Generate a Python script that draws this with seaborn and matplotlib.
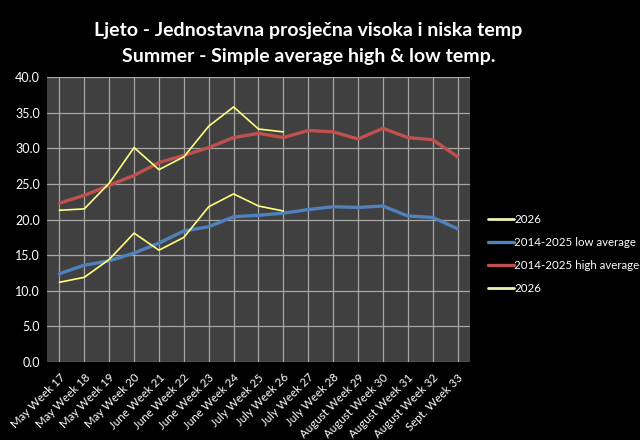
import pandas as pd
import seaborn as sns
import matplotlib.pyplot as plt
from matplotlib.lines import Line2D

# Week labels and weekly temperatures (deg C)
weeks = ['May Week 17', 'May Week 18', 'May Week 19', 'May Week 20',
         'June Week 21', 'June Week 22', 'June Week 23', 'June Week 24',
         'July Week 25', 'July Week 26', 'July Week 27', 'July Week 28',
         'August Week 29', 'August Week 30', 'August Week 31', 'August Week 32',
         'Sept. Week 33']
high_avg = [22.3, 23.4, 24.8, 26.2, 28.0, 29.0, 30.1, 31.5, 32.1, 31.5,
            32.5, 32.3, 31.3, 32.8, 31.5, 31.2, 28.8]
low_avg = [12.4, 13.6, 14.2, 15.3, 16.7, 18.4, 19.0, 20.4, 20.6, 20.9,
           21.4, 21.8, 21.7, 21.9, 20.5, 20.3, 18.7]
high_2026 = [21.3, 21.5, 25.1, 30.1, 27.0, 28.8, 33.1, 35.8, 32.7, 32.3]
low_2026 = [11.2, 11.9, 14.4, 18.1, 15.7, 17.5, 21.8, 23.6, 21.9, 21.2]

sns.set_style('dark')
plt.rcParams['font.family'] = ['Lato', 'DejaVu Sans']

blue = '#4f81bd'
red = '#c0504d'
yellow = '#ffff80'

fig = plt.figure(figsize=(6.4, 4.4), dpi=100, facecolor='black')
ax = fig.add_axes([0.0734, 0.177, 0.661, 0.648])
ax.set_facecolor('#404040')

df_avg = pd.DataFrame({'week': weeks, 'high': high_avg, 'low': low_avg})
df_26 = pd.DataFrame({'week': weeks[:len(high_2026)], 'high': high_2026, 'low': low_2026})

sns.lineplot(data=df_avg, x='week', y='low', color=blue, lw=2.4, sort=False, ax=ax)
sns.lineplot(data=df_avg, x='week', y='high', color=red, lw=2.4, sort=False, ax=ax)
sns.lineplot(data=df_26, x='week', y='high', color=yellow, lw=1.2, sort=False, ax=ax)
sns.lineplot(data=df_26, x='week', y='low', color=yellow, lw=1.2, sort=False, ax=ax)

ax.set_xlim(-0.5, len(weeks) - 0.5)
ax.set_ylim(0, 40)
ax.set_yticks(range(0, 41, 5))
ax.set_yticklabels([f'{v:.1f}' for v in range(0, 41, 5)], color='white', fontsize=9)
ax.set_xticks(range(len(weeks)))
ax.set_xticklabels(weeks, rotation=45, ha='right', rotation_mode='anchor',
                   color='white', fontsize=8.3)
ax.set_xlabel('')
ax.set_ylabel('')
ax.grid(True, color='#a6a6a6', lw=0.9)
ax.set_axisbelow(True)
ax.tick_params(axis='y', length=0, pad=5)
ax.tick_params(axis='x', length=0, pad=7)
for s in ax.spines.values():
    s.set_visible(False)

fig.text(0.482, 0.93, 'Ljeto - Jednostavna prosječna visoka i niska temp',
         color='white', fontsize=14, fontweight='bold', ha='center', va='center')
fig.text(0.482, 0.871, 'Summer - Simple average high & low temp.',
         color='white', fontsize=14, fontweight='bold', ha='center', va='center')

handles = [Line2D([], [], color='#f2f2b0', lw=2),
           Line2D([], [], color=blue, lw=2.4),
           Line2D([], [], color=red, lw=2.4),
           Line2D([], [], color='#f2f2b0', lw=2)]
labels = ['2026', '2014-2025 low average', '2014-2025 high average', '2026']
leg = fig.legend(handles, labels, loc='center left', bbox_to_anchor=(0.747, 0.422),
                 frameon=False, fontsize=8.3, labelcolor='white',
                 handlelength=2.2, handletextpad=0.05, labelspacing=1.05)

fig.savefig('out.png', dpi=100, facecolor='black')
